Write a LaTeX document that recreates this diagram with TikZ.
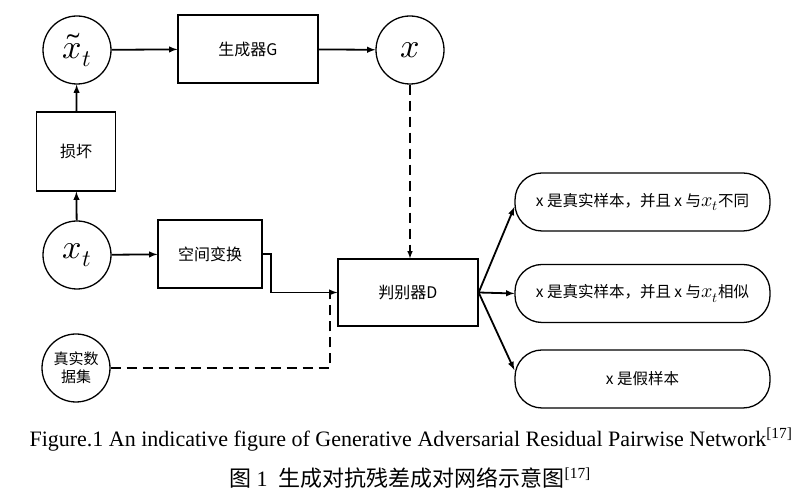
\documentclass[tikz,border=0pt]{standalone}
\usepackage{amsmath}
\usepackage{fontspec}
\usepackage{unicode-math}
\setmainfont{Liberation Serif}
\setmathfont{Latin Modern Math}
\newfontfamily\cjk{Noto Sans CJK SC}
\usepackage{tikz}
\usetikzlibrary{arrows}

\newcommand{\xsub}{{\fontsize{20}{20}\selectfont$x_t$}}

\tikzset{
  blk/.style={draw,rectangle,line width=1.3pt,font=\cjk\fontsize{16}{18}\selectfont},
  var/.style={draw,circle,line width=1.3pt,minimum size=68pt,inner sep=0pt,font=\fontsize{34}{36}\selectfont},
  outbox/.style={draw,rectangle,rounded corners=27pt,line width=1.3pt,minimum width=255pt,minimum height=58pt,font=\cjk\fontsize{15.5}{17}\selectfont},
  conn/.style={-latex,line width=1.8pt},
  dconn/.style={-latex,line width=1.5pt,dash pattern=on 10pt off 6pt},
}

\begin{document}
\begin{tikzpicture}[x=1pt,y=1pt]
    \useasboundingbox (0,0) rectangle (809,500);
    % generator branch
    \node[var] (xtt) at (77,450) {$\tilde{x}_t$};
    \node[blk,minimum width=140pt,minimum height=68pt] (gen) at (248,451) {生成器G};
    \node[var] (xo) at (410,450) {$x$};
    \node[blk,minimum width=79pt,minimum height=79pt] (dmg) at (76,348.5) {损坏};
    \node[var] (xt) at (77,245) {$x_t$};
    \node[blk,minimum width=104pt,minimum height=68pt] (stf) at (210,246) {空间变换};
    \node[blk,minimum width=140pt,minimum height=67pt] (dis) at (408,207.5) {判别器D};
    \node[var,font=\cjk\fontsize{15}{18}\selectfont,align=center] (real) at (76,132) {真实数\\据集};
    %
    \node[outbox] (o1) at (642.5,298) {x 是真实样本，并且 x 与\xsub 不同};
    \node[outbox] (o2) at (642.5,206.5) {x 是真实样本，并且 x 与\xsub 相似};
    \node[outbox] (o3) at (642.5,121) {x 是假样本};
    %
    \coordinate (join) at (330,207.5);
    \draw[conn] (xtt) -- (gen);
    \draw[conn] (gen) -- (xo);
    \draw[dconn] (xo.south) -- (xo.south |- dis.north);
    \draw[conn] (dmg) -- (xtt);
    \draw[conn] (xt) -- (dmg);
    \draw[conn] (xt) -- (stf);
    \draw[conn] (stf.east) -- ++(8,0) |- (dis.west);
    \draw[line width=1.5pt,dash pattern=on 10pt off 6pt] (real.east) -| (join);
    \draw[conn] (dis.east) -- ([yshift=-5pt]o1.west);
    \draw[conn] (dis.east) -- (o2.west);
    \draw[conn] (dis.east) -- ([yshift=9pt]o3.west);
    %
    \node[font=\fontsize{22}{24}\selectfont] (cap1) at (411,60)
      {Figure.1 An indicative figure of Generative Adversarial Residual Pairwise Network\textsuperscript{[17]}};
    \node[font=\fontsize{22}{24}\selectfont] (cap2) at (410,22)
      {{\cjk 图} 1\ \ {\cjk 生成对抗残差成对网络示意图}\textsuperscript{[17]}};
\end{tikzpicture}
\end{document}
